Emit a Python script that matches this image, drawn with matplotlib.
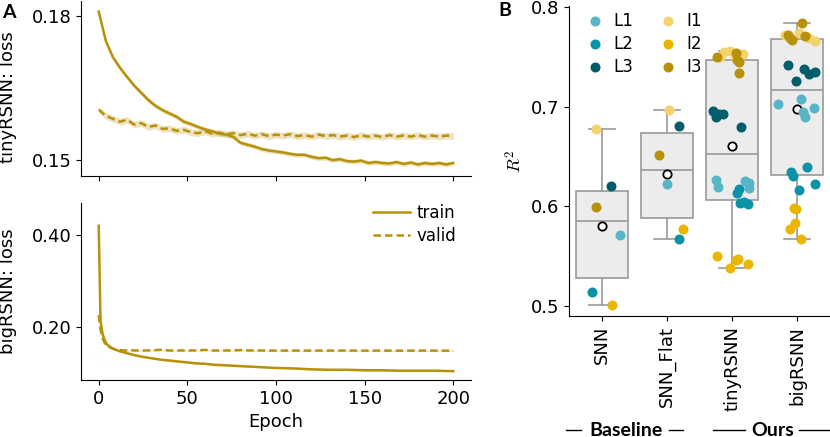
import numpy as np
import matplotlib
matplotlib.use("Agg")
import matplotlib.pyplot as plt
from matplotlib.transforms import blended_transform_factory

plt.rcParams['font.family'] = ['DejaVu Sans']
plt.rcParams['mathtext.fontset'] = 'cm'
plt.rcParams['font.size'] = 13

LINE_C = '#b8910a'

# ---- panel A data: loss curves ----
tiny_epochs = np.arange(0, 201, 4)
tiny_train = [0.1809, 0.1748, 0.1714, 0.1692, 0.1673, 0.1655, 0.1640, 0.1625, 0.1613, 0.1604,
              0.1597, 0.1590, 0.1580, 0.1575, 0.1569, 0.1564, 0.1560, 0.1555, 0.1553, 0.1548,
              0.1536, 0.1532, 0.1528, 0.1523, 0.1520, 0.1518, 0.1516, 0.1513, 0.1511, 0.1511,
              0.1507, 0.1504, 0.1505, 0.1500, 0.1502, 0.1498, 0.1497, 0.1499, 0.1494, 0.1496,
              0.1494, 0.1493, 0.1496, 0.1492, 0.1495, 0.1491, 0.1494, 0.1492, 0.1494, 0.1491,
              0.1494]
tiny_valid = [0.1605, 0.1592, 0.1586, 0.1580, 0.1584, 0.1574, 0.1577, 0.1569, 0.1572, 0.1565,
              0.1566, 0.1561, 0.1563, 0.1558, 0.1556, 0.1560, 0.1555, 0.1557, 0.1554, 0.1556,
              0.1552, 0.1555, 0.1551, 0.1554, 0.1550, 0.1553, 0.1551, 0.1554, 0.1550, 0.1552,
              0.1549, 0.1553, 0.1550, 0.1552, 0.1549, 0.1551, 0.1548, 0.1552, 0.1549, 0.1551,
              0.1548, 0.1552, 0.1549, 0.1551, 0.1549, 0.1552, 0.1549, 0.1551, 0.1549, 0.1551,
              0.1550]
tiny_train_sd = 0.0005
tiny_valid_sd = 0.0007

big_epochs = [0, 1, 2, 3, 4, 5, 6, 8, 10, 12, 14, 16, 18, 20, 25, 30, 35, 40, 45, 50,
              55, 60, 65, 70, 75, 80, 85, 90, 95, 100, 110, 120, 130, 140, 150, 160, 170, 180, 190, 200]
big_train = [0.420, 0.215, 0.188, 0.175, 0.166, 0.161, 0.158, 0.153, 0.150, 0.147,
             0.145, 0.143, 0.141, 0.139, 0.135, 0.132, 0.129, 0.127, 0.125, 0.123,
             0.121, 0.120, 0.118, 0.117, 0.116, 0.115, 0.114, 0.113, 0.112, 0.111,
             0.110, 0.108, 0.107, 0.107, 0.106, 0.106, 0.105, 0.105, 0.105, 0.104]
big_valid = [0.226, 0.195, 0.178, 0.168, 0.162, 0.158, 0.156, 0.153, 0.151, 0.150,
             0.149, 0.149, 0.1495, 0.149, 0.149, 0.1492, 0.1505, 0.149, 0.149, 0.149,
             0.149, 0.1502, 0.1488, 0.149, 0.149, 0.1498, 0.149, 0.149, 0.1488, 0.1487,
             0.1488, 0.1487, 0.1487, 0.1488, 0.1486, 0.1487, 0.1486, 0.1487, 0.1486, 0.1486]
big_train_sd = [0.02, 0.01, 0.005, 0.003, 0.002] + [0.0015] * 35
big_valid_sd = [0.012, 0.008, 0.004, 0.003, 0.002] + [0.0015] * 35

# ---- panel B data: R^2 per model / dataset ----
models = ['SNN', 'SNN_Flat', 'tinyRSNN', 'bigRSNN']
datasets = ['L1', 'L2', 'L3', 'I1', 'I2', 'I3']
ds_colors = {'L1': '#58b5c8', 'L2': '#0a93a8', 'L3': '#005e6c',
             'I1': '#f4d26c', 'I2': '#ecb500', 'I3': '#b8910a'}
r2 = {
    'SNN': {'L1': [0.5707], 'L2': [0.514], 'L3': [0.6203],
            'I1': [0.6773], 'I2': [0.5006], 'I3': [0.5995]},
    'SNN_Flat': {'L1': [0.6223], 'L2': [0.5673], 'L3': [0.681],
                 'I1': [0.697], 'I2': [0.5767], 'I3': [0.6515]},
    'tinyRSNN': {'L1': [0.6263, 0.6196, 0.6257, 0.6237, 0.618],
                 'L2': [0.613, 0.617, 0.603, 0.6046, 0.602],
                 'L3': [0.6961, 0.6894, 0.6927, 0.6927, 0.6793],
                 'I1': [0.7554, 0.7564, 0.7531, 0.7504, 0.7497],
                 'I2': [0.5499, 0.5382, 0.5456, 0.5466, 0.5415],
                 'I3': [0.7504, 0.7537, 0.747, 0.7454, 0.7343]},
    'bigRSNN': {'L1': [0.7028, 0.7075, 0.6951, 0.6894, 0.6984],
                'L2': [0.6347, 0.6304, 0.6398, 0.6223, 0.6163],
                'L3': [0.742, 0.7376, 0.733, 0.7353, 0.7262],
                'I1': [0.7745, 0.7698, 0.7662, 0.7722, 0.769],
                'I2': [0.5985, 0.597, 0.5828, 0.5767, 0.5667],
                'I3': [0.7839, 0.7722, 0.7668, 0.7712, 0.7688]},
}
# horizontal strip jitter (category units)
jitter = {
    'SNN': {'L1': [0.28], 'L2': [-0.15], 'L3': [0.14], 'I1': [-0.09], 'I2': [0.16], 'I3': [-0.09]},
    'SNN_Flat': {'L1': [0.0], 'L2': [0.18], 'L3': [0.18], 'I1': [0.03], 'I2': [0.24], 'I3': [-0.12]},
    'tinyRSNN': {'L1': [-0.24, -0.22, 0.2, 0.26, 0.26],
                 'L2': [0.07, 0.11, 0.12, 0.18, 0.25],
                 'L3': [-0.29, -0.25, -0.2, -0.14, 0.14],
                 'I1': [-0.13, -0.03, 0.16, -0.18, 0.05],
                 'I2': [-0.23, -0.04, 0.06, 0.09, 0.25],
                 'I3': [-0.23, 0.06, 0.08, 0.11, 0.11]},
    'bigRSNN': {'L1': [-0.29, 0.05, 0.09, 0.12, 0.26],
                'L2': [-0.1, -0.07, 0.14, 0.27, 0.03],
                'L3': [-0.15, 0.1, 0.18, 0.27, -0.02],
                'I1': [0.03, 0.15, 0.27, -0.19, 0.18],
                'I2': [-0.05, -0.02, -0.03, -0.12, 0.05],
                'I3': [0.07, -0.14, -0.09, 0.12, -0.12]},
}

fig = plt.figure(figsize=(8.3, 4.37), dpi=100)
W, H = 830, 437
axA1 = fig.add_axes([81 / W, 1 - 176 / H, 390 / W, 175 / H])
axA2 = fig.add_axes([81 / W, 1 - 380 / H, 390 / W, 177 / H])
axB = fig.add_axes([569 / W, 1 - 316 / H, 261 / W, 310 / H])

def loss_panel(ax, ep, tr, tr_sd, va, va_sd):
    ep = np.asarray(ep)
    tr, va = np.asarray(tr), np.asarray(va)
    ax.fill_between(ep, tr - np.asarray(tr_sd), tr + np.asarray(tr_sd), color=LINE_C, alpha=0.25, lw=0)
    ax.fill_between(ep, va - np.asarray(va_sd), va + np.asarray(va_sd), color=LINE_C, alpha=0.25, lw=0)
    ax.plot(ep, tr, color=LINE_C, lw=1.8, label='train')
    ax.plot(ep, va, color=LINE_C, lw=1.8, ls=(0, (3.0, 1.6)), label='valid')
    for s in ['top', 'right']:
        ax.spines[s].set_visible(False)
    ax.set_xlim(-10, 210)
    ax.set_xticks([0, 50, 100, 150, 200])

loss_panel(axA1, tiny_epochs, tiny_train, tiny_train_sd, tiny_valid, tiny_valid_sd)
axA1.set_ylim(0.1467, 0.1831)
axA1.set_yticks([0.15, 0.18])
axA1.set_yticklabels(['0.15', '0.18'])
axA1.set_xticklabels([])
axA1.set_ylabel('tinyRSNN: loss')

loss_panel(axA2, big_epochs, big_train, big_train_sd, big_valid, big_valid_sd)
axA2.set_ylim(0.0848, 0.4696)
axA2.set_yticks([0.2, 0.4])
axA2.set_yticklabels(['0.20', '0.40'])
axA2.set_ylabel('bigRSNN: loss')
axA2.set_xlabel('Epoch')
axA2.legend(loc='upper right', bbox_to_anchor=(1.0, 1.08), frameon=False, fontsize=12,
            handlelength=2.2, handletextpad=0.4, labelspacing=0.3)
axA1.yaxis.set_label_coords(-0.165, 0.45)
axA2.yaxis.set_label_coords(-0.165, 0.5)

# ---- panel B ----
all_vals = [np.concatenate([r2[m][d] for d in datasets]) for m in models]
grey = '#999999'
axB.boxplot(all_vals, positions=range(len(models)), widths=0.8, patch_artist=True,
            showmeans=True, showfliers=False, zorder=1,
            boxprops=dict(facecolor='#ececec', edgecolor=grey, lw=1.2),
            medianprops=dict(color=grey, lw=1.2),
            whiskerprops=dict(color=grey, lw=1.2),
            capprops=dict(color=grey, lw=1.2),
            meanprops=dict(marker='o', markerfacecolor='white', markeredgecolor='black',
                           markeredgewidth=1.3, markersize=6))
for d in datasets:
    xs, ys = [], []
    for i, m in enumerate(models):
        xs += [i + j for j in jitter[m][d]]
        ys += r2[m][d]
    axB.scatter(xs, ys, s=52, color=ds_colors[d], lw=0, zorder=3, label=d)

axB.set_xlim(-0.5, 3.5)
axB.set_ylim(0.4896, 0.8013)
axB.set_yticks([0.5, 0.6, 0.7, 0.8])
axB.set_xticks(range(len(models)))
axB.set_xticklabels(models, rotation=90)
axB.set_ylabel('$R^2$')
for s in ['top', 'right']:
    axB.spines[s].set_visible(False)
axB.legend(loc='upper left', bbox_to_anchor=(0.01, 1.03), ncol=2, frameon=False, fontsize=12,
           handlelength=1.0, handletextpad=0.6, columnspacing=1.6, labelspacing=0.3,
           scatterpoints=1)

# group labels under panel B
tr = blended_transform_factory(axB.transData, fig.transFigure)
gy = 1 - 430 / H
for x0, x1 in [(-0.54, -0.31), (1.03, 1.25), (1.71, 2.2), (3.02, 3.48)]:
    axB.plot([x0, x1], [gy, gy], color='black', lw=1.0, transform=tr, clip_on=False)
axB.text(0.37, gy, 'Baseline', transform=tr, ha='center', va='center',
         fontsize=14, fontweight='bold', family='Lato')
axB.text(2.62, gy, 'Ours', transform=tr, ha='center', va='center',
         fontsize=14, fontweight='bold', family='Lato')

fig.text(2 / W, 1 - 12 / H, 'A', fontsize=14, fontweight='bold', family='Lato', va='center')
fig.text(498 / W, 1 - 11 / H, 'B', fontsize=14, fontweight='bold', family='Lato', va='center')

fig.savefig('out.png', dpi=100)
